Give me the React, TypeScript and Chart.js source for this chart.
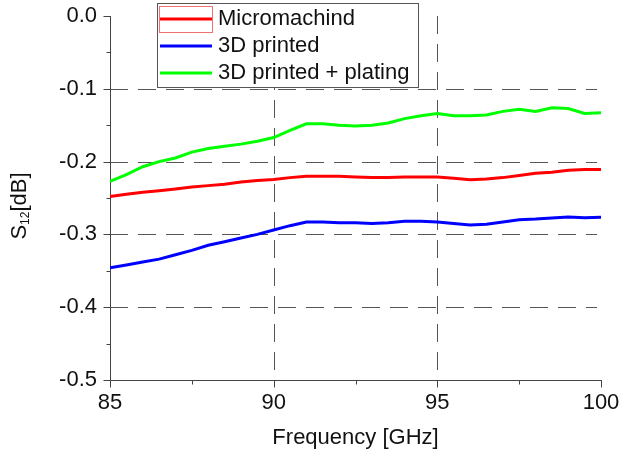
import React, { useEffect, useRef } from "react";
import { Chart, registerables } from "chart.js";

Chart.register(...registerables);

const frequencies = [
  85, 85.5, 86, 86.5, 87, 87.5, 88, 88.5, 89, 89.5, 90, 90.5, 91, 91.5, 92, 92.5,
  93, 93.5, 94, 94.5, 95, 95.5, 96, 96.5, 97, 97.5, 98, 98.5, 99, 99.5, 100,
];

const micromachined = [
  -0.248, -0.245, -0.242, -0.24, -0.2375, -0.235, -0.233, -0.231, -0.228, -0.226, -0.2245,
  -0.222, -0.22, -0.22, -0.22, -0.221, -0.222, -0.222, -0.221, -0.221, -0.221, -0.223,
  -0.225, -0.224, -0.222, -0.219, -0.216, -0.2145, -0.212, -0.211, -0.2107,
];

const printed3D = [
  -0.346, -0.342, -0.338, -0.334, -0.328, -0.322, -0.315, -0.31, -0.305, -0.3, -0.294,
  -0.288, -0.283, -0.283, -0.284, -0.284, -0.285, -0.284, -0.282, -0.282, -0.283, -0.285,
  -0.287, -0.286, -0.283, -0.28, -0.279, -0.2775, -0.276, -0.277, -0.2766,
];

const printedPlating = [
  -0.227, -0.218, -0.207, -0.2, -0.195, -0.187, -0.182, -0.179, -0.176, -0.172, -0.167,
  -0.157, -0.148, -0.148, -0.15, -0.151, -0.15, -0.147, -0.141, -0.137, -0.134, -0.137,
  -0.137, -0.136, -0.131, -0.128, -0.131, -0.126, -0.127, -0.134, -0.133,
];

const seriesNames = ["Micromachind", "3D printed", "3D printed + plating"];
const seriesColors = ["#ff0000", "#0000ff", "#00ff00"];
const yMajorTicks = [0, -0.1, -0.2, -0.3, -0.4, -0.5];
const xMajorTicks = [85, 90, 95, 100];
const xGridLines = [90, 95];
const yGridLines = [-0.1, -0.2, -0.3, -0.4];

const FONT_FAMILY = "'Liberation Sans', Arial, sans-serif";
const TEXT_COLOR = "#111";
const AXIS_COLOR = "#444";

const axesPlugin = {
  id: "customAxes",
  beforeDatasetsDraw(chart: any) {
    const { ctx, chartArea } = chart;
    const xs = chart.scales.x;
    const ys = chart.scales.y;
    ctx.save();
    ctx.lineWidth = 1;
    ctx.strokeStyle = "#555";
    ctx.setLineDash([18, 10]);
    yGridLines.forEach((v) => {
      const py = Math.round(ys.getPixelForValue(v)) + 0.5;
      ctx.beginPath();
      ctx.moveTo(chartArea.left, py);
      ctx.lineTo(chartArea.right - 4, py);
      ctx.stroke();
    });
    xGridLines.forEach((v) => {
      const px = Math.round(xs.getPixelForValue(v)) + 0.5;
      ctx.beginPath();
      ctx.moveTo(px, chartArea.top);
      ctx.lineTo(px, chartArea.bottom);
      ctx.stroke();
    });
    ctx.setLineDash([]);
    ctx.strokeStyle = AXIS_COLOR;
    const left = Math.round(chartArea.left) + 0.5;
    const bottom = Math.round(chartArea.bottom) + 0.5;
    ctx.beginPath();
    ctx.moveTo(left, Math.round(chartArea.top));
    ctx.lineTo(left, bottom);
    ctx.lineTo(Math.round(chartArea.right) + 1, bottom);
    ctx.stroke();
    yMajorTicks.forEach((v) => {
      const py = Math.round(ys.getPixelForValue(v)) + 0.5;
      ctx.beginPath();
      ctx.moveTo(left - 7, py);
      ctx.lineTo(left, py);
      ctx.stroke();
      if (v > -0.5) {
        const pm = Math.round(ys.getPixelForValue(v - 0.05)) + 0.5;
        ctx.beginPath();
        ctx.moveTo(left - 4, pm);
        ctx.lineTo(left, pm);
        ctx.stroke();
      }
    });
    xMajorTicks.forEach((v) => {
      const px = Math.round(xs.getPixelForValue(v)) + 0.5;
      ctx.beginPath();
      ctx.moveTo(px, bottom);
      ctx.lineTo(px, bottom + 7);
      ctx.stroke();
      if (v < 100) {
        const pm = Math.round(xs.getPixelForValue(v + 2.5)) + 0.5;
        ctx.beginPath();
        ctx.moveTo(pm, bottom);
        ctx.lineTo(pm, bottom + 4);
        ctx.stroke();
      }
    });
    ctx.restore();
  },
};

const overlayPlugin = {
  id: "overlay",
  afterDraw(chart: any) {
    const { ctx } = chart;
    ctx.save();
    ctx.translate(26, 206);
    ctx.rotate(-Math.PI / 2);
    ctx.fillStyle = TEXT_COLOR;
    ctx.textBaseline = "alphabetic";
    const big = `22px ${FONT_FAMILY}`;
    const small = `12px ${FONT_FAMILY}`;
    ctx.font = big;
    const wS = ctx.measureText("S").width;
    const wB = ctx.measureText("[dB]").width;
    ctx.font = small;
    const w12 = ctx.measureText("12").width;
    const total = wS + w12 + wB;
    let cx = -total / 2;
    ctx.font = big;
    ctx.fillText("S", cx, 0);
    cx += wS;
    ctx.font = small;
    ctx.fillText("12", cx, 3);
    cx += w12;
    ctx.font = big;
    ctx.fillText("[dB]", cx, 0);
    ctx.restore();

    ctx.save();
    ctx.fillStyle = "#fff";
    ctx.fillRect(157, 3, 261, 84);
    ctx.strokeStyle = "#555";
    ctx.lineWidth = 1;
    ctx.strokeRect(157.5, 3.5, 261, 84);
    const rows = [19, 46, 73];
    seriesNames.forEach((name, i) => {
      const yy = rows[i];
      if (i === 0) {
        ctx.strokeStyle = "#f07070";
        ctx.lineWidth = 1;
        ctx.strokeRect(159.5, 6.5, 53, 26);
      }
      ctx.strokeStyle = seriesColors[i];
      ctx.lineWidth = 3;
      ctx.beginPath();
      ctx.moveTo(160, yy);
      ctx.lineTo(212, yy);
      ctx.stroke();
      ctx.fillStyle = TEXT_COLOR;
      ctx.font = `22px ${FONT_FAMILY}`;
      ctx.textBaseline = "middle";
      ctx.textAlign = "left";
      ctx.fillText(name, 218, yy);
    });
    ctx.restore();
  },
};

export default function App() {
  const canvasRef = useRef<HTMLCanvasElement | null>(null);

  useEffect(() => {
    const canvas = canvasRef.current;
    if (!canvas) return;
    const seriesValues = [micromachined, printed3D, printedPlating];
    const tickFont = { family: FONT_FAMILY, size: 22 };
    const chart = new Chart(canvas, {
      type: "line",
      data: {
        datasets: seriesValues.map((vals, i) => ({
          label: seriesNames[i],
          data: frequencies.map((f, j) => ({ x: f, y: vals[j] })),
          borderColor: seriesColors[i],
          backgroundColor: seriesColors[i],
          borderWidth: 3,
          pointRadius: 0,
          tension: 0,
          fill: false,
        })),
      },
      options: {
        responsive: false,
        animation: false,
        layout: { padding: { top: 16, right: 23, left: 0, bottom: 0 } },
        plugins: {
          legend: { display: false },
          tooltip: { enabled: false },
        },
        scales: {
          x: {
            type: "linear",
            min: 85,
            max: 100,
            grid: { display: false, drawTicks: false },
            border: { display: false },
            ticks: {
              stepSize: 5,
              padding: 10,
              maxRotation: 0,
              color: TEXT_COLOR,
              font: tickFont,
              callback: (v: any) => String(v),
            },
            title: {
              display: true,
              text: "Frequency [GHz]",
              color: TEXT_COLOR,
              font: tickFont,
              padding: { top: 0, bottom: 10 },
            },
            afterFit: (s: any) => {
              s.height = 81;
              s.paddingLeft = 0;
              s.paddingRight = 0;
            },
          },
          y: {
            type: "linear",
            min: -0.5,
            max: 0,
            grid: { display: false, drawTicks: false },
            border: { display: false },
            ticks: {
              stepSize: 0.1,
              padding: 13,
              color: TEXT_COLOR,
              font: tickFont,
              callback: (v: any) => Number(v).toFixed(1),
            },
            afterFit: (s: any) => {
              s.width = 110;
              s.paddingTop = 0;
              s.paddingBottom = 0;
            },
          },
        },
      },
      plugins: [axesPlugin, overlayPlugin],
    } as any);
    return () => chart.destroy();
  }, []);

  return (
    <div style={{ position: "absolute", left: 0, top: 0, width: 624, height: 461, background: "#fff" }}>
      <canvas ref={canvasRef} width={624} height={461} style={{ display: "block" }} />
    </div>
  );
}
